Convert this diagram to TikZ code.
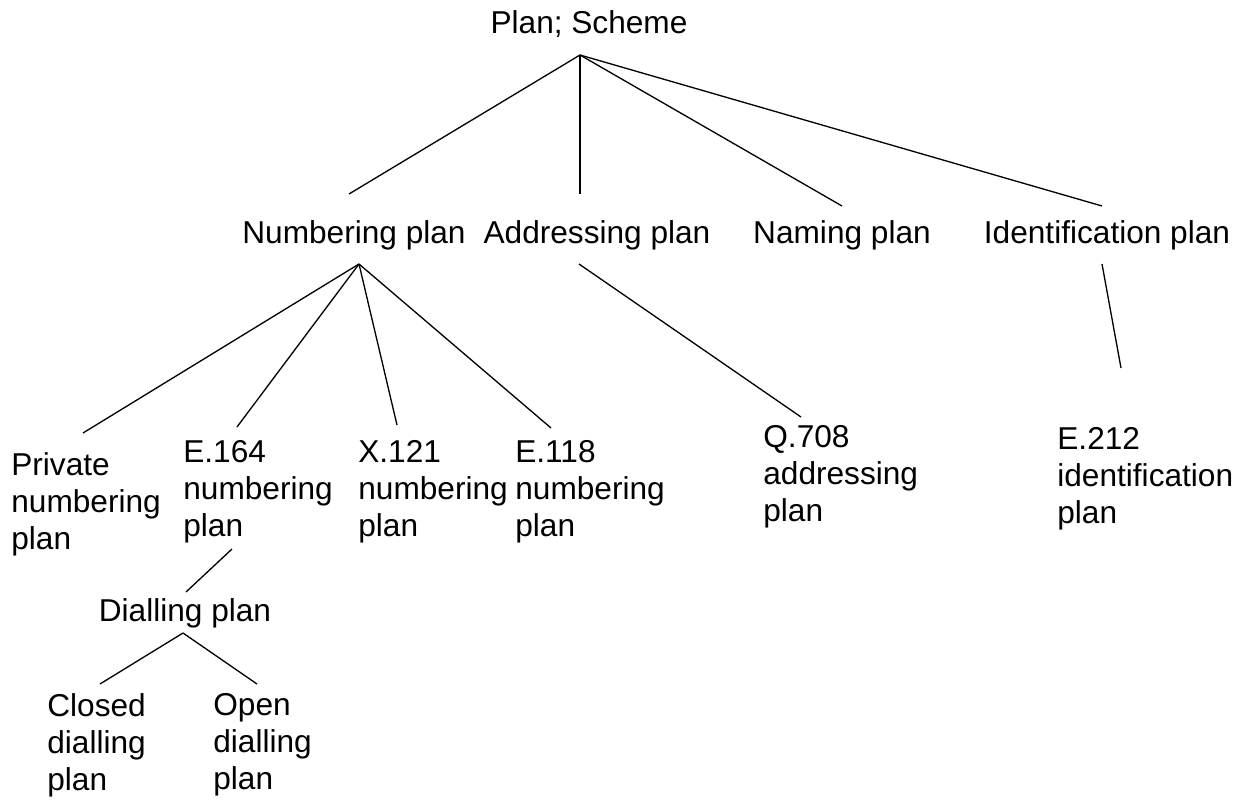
\documentclass[tikz,border=0pt]{standalone}
\usepackage{fontspec}
\setmainfont{Liberation Sans}
\usetikzlibrary{positioning}
\tikzstyle{term}=[inner sep=0pt, anchor=base, font=\fontsize{18}{21}\selectfont]
\tikzstyle{leaf}=[inner sep=0pt, anchor=north west, align=left, font=\fontsize{18}{21}\selectfont]
\tikzstyle{branch}=[line width=0.75pt]

\begin{document}
\begin{tikzpicture}[x=0.02cm, y=-0.02cm]
    \useasboundingbox (0,0) rectangle (1247,801);

    % top levels
    \node (root)[term] at (589,33) {Plan; Scheme};
    \node (numbering)[term] at (354,243) {Numbering plan};
    \node (addressing)[term] at (597,243) {Addressing plan};
    \node (naming)[term] at (842,243) {Naming plan};
    \node (identification)[term] at (1107,243) {Identification plan};

    % leaves
    \node (private)[leaf] at (11,452) {Private\\numbering\\plan};
    \node (e164)[leaf] at (183,440) {E.164\\numbering\\plan};
    \node (x121)[leaf] at (358,440) {X.121\\numbering\\plan};
    \node (e118)[leaf] at (515,440) {E.118\\numbering\\plan};
    \node (q708)[leaf] at (763,425) {Q.708\\addressing\\plan};
    \node (e212)[leaf] at (1057,427) {E.212\\identification\\plan};
    \node (dialling)[term] at (185,621) {Dialling plan};
    \node (closed)[leaf] at (47,693) {Closed\\dialling\\plan};
    \node (open)[leaf] at (213,693) {Open\\dialling\\plan};

    % connector ends
    \coordinate (rootHub) at (580,55);
    \coordinate (numberingUp) at (349,194);
    \coordinate (addressingUp) at (580,194);
    \coordinate (namingUp) at (842,206);
    \coordinate (identificationUp) at (1102,206);
    \coordinate (numberingHub) at (359,264);
    \coordinate (privateUp) at (83,433);
    \coordinate (e164Up) at (237,427);
    \coordinate (x121Up) at (397,425);
    \coordinate (e118Up) at (551,428);
    \coordinate (addressingHub) at (579,264);
    \coordinate (q708Up) at (801,417);
    \coordinate (identificationHub) at (1102,264);
    \coordinate (e212Up) at (1121,368);
    \coordinate (e164Foot) at (232,549);
    \coordinate (diallingUp) at (186,592);
    \coordinate (diallingHub) at (183,633);
    \coordinate (closedUp) at (100,684);
    \coordinate (openUp) at (257,684);

    \foreach \n in {numbering, addressing, naming, identification}
        \draw[branch] (rootHub) -- (\n Up);
    \foreach \n in {private, e164, x121, e118}
        \draw[branch] (numberingHub) -- (\n Up);
    \draw[branch] (addressingHub) -- (q708Up);
    \draw[branch] (identificationHub) -- (e212Up);
    \draw[branch] (e164Foot) -- (diallingUp);
    \draw[branch] (diallingHub) -- (closedUp);
    \draw[branch] (diallingHub) -- (openUp);

\end{tikzpicture}
\end{document}
